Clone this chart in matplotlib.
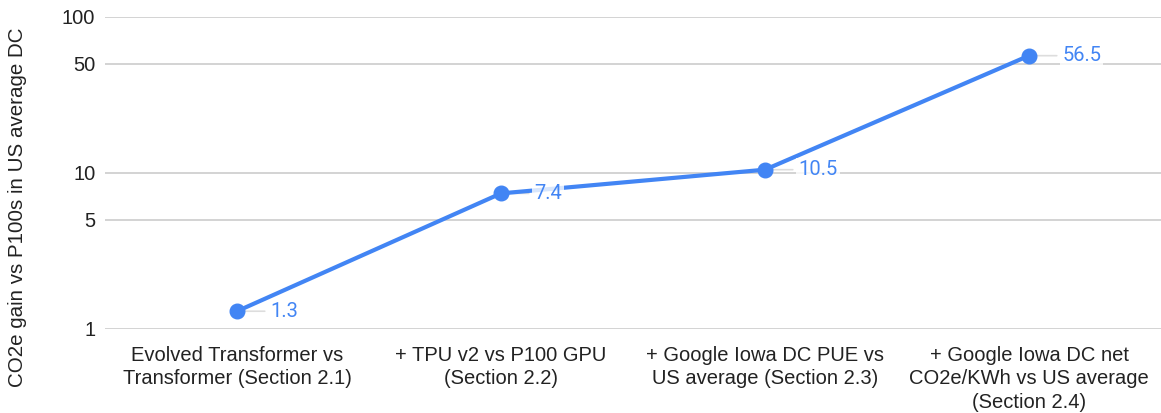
import matplotlib
matplotlib.use("Agg")
import matplotlib.pyplot as plt
from matplotlib.ticker import FixedLocator, NullLocator

categories = ["Evolved Transformer vs\nTransformer (Section 2.1)",
              "+ TPU v2 vs P100 GPU\n(Section 2.2)",
              "+ Google Iowa DC PUE vs\nUS average (Section 2.3)",
              "+ Google Iowa DC net\nCO2e/KWh vs US average\n(Section 2.4)"]
values = [1.3, 7.4, 10.5, 56.5]
yticks = [1, 5, 10, 50, 100]
ylabel = "CO2e gain vs P100s in US average DC"

plt.rcParams['font.family'] = ['Liberation Sans', 'DejaVu Sans']
blue = "#4285F4"
txt = "#222222"

fig = plt.figure(figsize=(11.61, 4.13), dpi=100)
ax = fig.add_axes([105/1161, 84/413, 1 - 105/1161, (329-17)/413])
x = list(range(len(values)))
ax.plot(x, values, color=blue, lw=3, marker='o', ms=10.5, zorder=3)
ax.set_yscale('log')
ax.set_ylim(1, 100)
ax.set_xlim(-0.5, 3.5)
ax.yaxis.set_major_locator(FixedLocator(yticks))
ax.yaxis.set_minor_locator(NullLocator())
ax.set_yticks(yticks)
ax.set_yticklabels([str(t) for t in yticks])
ax.set_xticks(x)
ax.set_xticklabels(categories, linespacing=1.3)
ax.tick_params(axis='both', length=0, labelsize=14.5, colors=txt)
ax.tick_params(axis='y', pad=7)
ax.tick_params(axis='x', pad=12)
ax.grid(axis='y', color='#cccccc', lw=1.2, zorder=0)
for s in ax.spines.values():
    s.set_visible(False)
fig.text(18/1161, 1 - 207/413, ylabel, rotation=90, ha='center', va='center',
         fontsize=14.8, color=txt)

for xi, v in zip(x, values):
    ax.annotate(f"{v}", xy=(xi, v), xytext=(24, 0), textcoords='offset points',
                va='center', ha='left', fontsize=14.5, color=blue, zorder=4,
                family=['Roboto', 'DejaVu Sans'],
                bbox=dict(boxstyle='square,pad=0.1', fc='white', ec='none', alpha=0.8))
    ax.annotate("", xy=(xi, v), xytext=(22, 0), textcoords='offset points',
                arrowprops=dict(arrowstyle='-', color='#dddddd', lw=1.2), zorder=2)

fig.savefig("out.png", dpi=100)
